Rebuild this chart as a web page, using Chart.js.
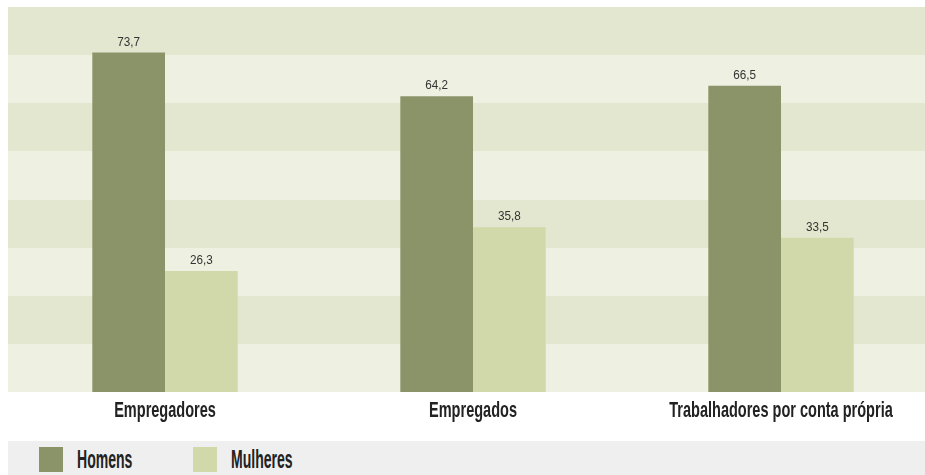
<!DOCTYPE html>
<html>
<head>
<meta charset="utf-8">
<script src="https://cdn.jsdelivr.net/npm/chart.js@4/dist/chart.umd.min.js"></script>
<style>
  html, body { margin: 0; padding: 0; background: #fff; overflow: hidden; }
  #wrap { position: relative; width: 940px; height: 440px; }
  #legend { position: absolute; left: 8px; top: 441px; width: 917px; height: 34px; background: #efefef;
            font-family: "Liberation Sans", Arial, sans-serif; font-weight: bold; font-size: 26px; color: #222; }
  .sw { position: absolute; top: 6px; width: 24px; height: 25px; }
  .lt { position: absolute; top: 5px; line-height: 26px; transform: scaleX(0.54); transform-origin: 0 0; white-space: nowrap; }
</style>
</head>
<body>
<div id="wrap"><canvas id="chart" width="940" height="440"></canvas></div>
<div id="legend">
  <div class="sw" style="left:31px;background:#8b9468"></div><div class="lt" style="left:69px">Homens</div>
  <div class="sw" style="left:185px;background:#d1d8aa"></div><div class="lt" style="left:223px">Mulheres</div>
</div>
<script>
var categories = ["Empregadores", "Empregados", "Trabalhadores por conta própria"];
var homens = [73.7, 64.2, 66.5];
var mulheres = [26.3, 35.8, 33.5];
var yMax = 83.6;
var bandStep = 10.45;

var bandsPlugin = {
    id: "bands",
    beforeDraw: function (chart) {
        var c = chart.ctx;
        var area = chart.chartArea;
        var y = chart.scales.y;
        c.save();
        for (var i = 0; i < 8; i++) {
            var top = Math.round(y.getPixelForValue(yMax - i * bandStep));
            var bot = Math.round(y.getPixelForValue(yMax - (i + 1) * bandStep));
            c.fillStyle = (i % 2 === 0) ? "#e4e7cf" : "#eef0e2";
            c.fillRect(area.left - 3, top, area.right - area.left + 3, bot - top);
        }
        c.restore();
    }
};

var valuePlugin = {
    id: "values",
    afterDatasetsDraw: function (chart) {
        var c = chart.ctx;
        c.save();
        c.font = '13px "Liberation Sans", Arial, sans-serif';
        c.fillStyle = "#333";
        c.textAlign = "center";
        c.textBaseline = "alphabetic";
        chart.data.datasets.forEach(function (ds, di) {
            chart.getDatasetMeta(di).data.forEach(function (bar, i) {
                c.save();
                c.translate(bar.x, bar.y - 7);
                c.scale(0.9, 1);
                c.fillText(ds.data[i].toFixed(1).replace(".", ","), 0, 0);
                c.restore();
            });
        });
        c.restore();
    }
};

var chart = new Chart(document.getElementById("chart"), {
    type: "bar",
    data: {
        labels: categories,
        datasets: [
            { label: "Homens", data: homens, backgroundColor: "#8b9468" },
            { label: "Mulheres", data: mulheres, backgroundColor: "#d1d8aa" }
        ]
    },
    options: {
        responsive: false,
        animation: false,
        layout: { padding: { left: 11, top: 7, right: 5, bottom: 9.6 } },
        plugins: { legend: { display: false }, tooltip: { enabled: false } },
        datasets: { bar: { categoryPercentage: 0.472, barPercentage: 1 } },
        scales: {
            x: {
                grid: { display: false, drawTicks: false, tickLength: 0 },
                border: { display: false },
                afterFit: function (scale) {
                    scale.paddingLeft = 0;
                    scale.paddingRight = 0;
                },
                ticks: {
                    padding: 6,
                    autoSkip: false,
                    maxRotation: 0,
                    minRotation: 0,
                    color: "#222",
                    font: { family: '"Liberation Sans", Arial, sans-serif', size: 22, weight: "bold" }
                }
            },
            y: { display: false, min: 0, max: yMax }
        }
    },
    plugins: [bandsPlugin, valuePlugin]
});

// the category labels are set in a narrow face, so squeeze them sideways
chart.scales.x.drawLabels = function (area) {
    var c = this.ctx;
    this.getLabelItems(area).forEach(function (item) {
        c.save();
        c.translate(item.options.translation[0], item.options.translation[1]);
        c.scale(0.66, 1);
        c.font = item.font.string;
        c.fillStyle = item.options.color;
        c.textAlign = "center";
        c.textBaseline = item.options.textBaseline;
        c.fillText(item.label, 0, item.textOffset);
        c.restore();
    });
};
chart.draw();
</script>
</body>
</html>
